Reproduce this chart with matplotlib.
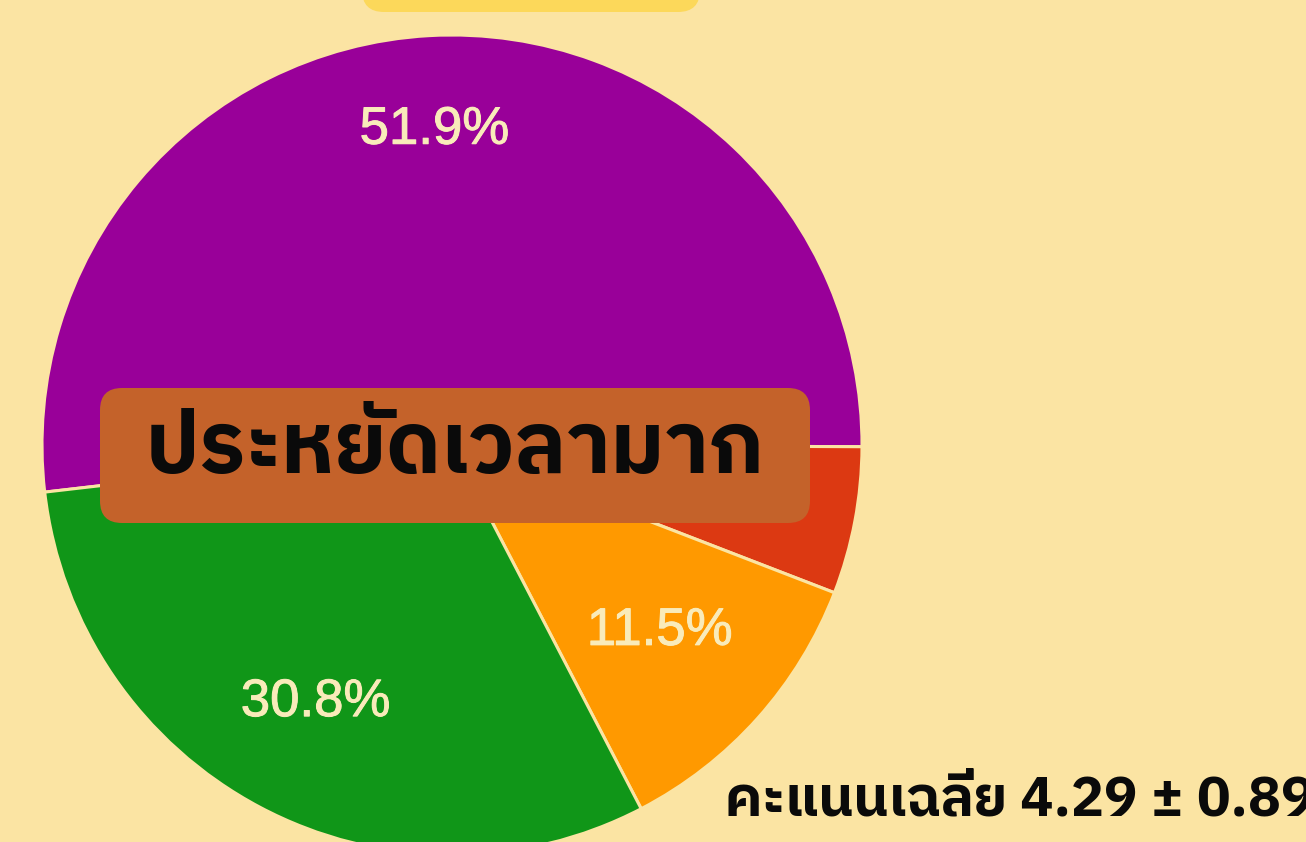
import matplotlib
matplotlib.use("Agg")
import matplotlib.pyplot as plt
from matplotlib import font_manager
from matplotlib.ft2font import FT2Font
from matplotlib.patches import FancyBboxPatch
import matplotlib.patheffects as pe
import numpy as np

# Survey answer shares (percent), clockwise from the largest slice
shares = [51.9, 5.8, 11.5, 30.8]
colors = ["#990099", "#dc3912", "#ff9900", "#109618"]
show_pct = [True, False, True, True]
title_text = "ประหยัดเวลามาก"
score_text = "คะแนนเฉลี่ย 4.29 ± 0.89"

BG = "#fbe4a3"
LABEL = "#f9ebba"


def find_thai_font():
    preferred = []
    others = []
    for f in font_manager.fontManager.ttflist:
        try:
            cmap = FT2Font(f.fname).get_charmap()
        except Exception:
            continue
        if 0x0E1B in cmap and 0x0E22 in cmap:
            if "thai" in f.name.lower():
                preferred.append(f.name)
            else:
                others.append(f.name)
    names = preferred + others
    return names[0] if names else "DejaVu Sans"


thai = find_thai_font()

W, H = 1306, 842
fig = plt.figure(figsize=(W / 100, H / 100), dpi=100, facecolor=BG)
ax = fig.add_axes([0, 0, 1, 1])

# header tab at the top edge
ax.add_patch(FancyBboxPatch((362, H - 12), 338, 60,
                            boxstyle="round,pad=0,rounding_size=22",
                            fc="#fcd85a", ec="none", zorder=1))

cx, cy, r = 452, H - 445, 410
wedges, texts, autotexts = ax.pie(
    shares, colors=colors, startangle=186.6, counterclock=False,
    center=(cx, cy), radius=r, frame=True,
    autopct=lambda p: f"{p:.1f}%", pctdistance=0.72,
    wedgeprops=dict(edgecolor=BG, linewidth=2.2),
    textprops=dict(color=LABEL, fontsize=38, family="Liberation Sans"))
ax.set_xlim(0, W)
ax.set_ylim(0, H)
ax.set_aspect("equal")
ax.axis("off")

label_frac = [0.77, 0.7, 0.68, 0.71]
for w, t, show, fr in zip(wedges, autotexts, show_pct, label_frac):
    if not show:
        t.set_visible(False)
        continue
    ang = np.deg2rad((w.theta1 + w.theta2) / 2)
    t.set_position((cx + fr * r * np.cos(ang), cy + fr * r * np.sin(ang)))
    t.set_path_effects([pe.withStroke(linewidth=0.7, foreground=LABEL)])

# banner over the pie
ax.add_patch(FancyBboxPatch((100, H - 523), 710, 135,
                            boxstyle="round,pad=0,rounding_size=22",
                            fc="#c4622a", ec="none", zorder=5))
ax.text(455, H - 450, title_text, fontsize=62, fontweight="bold",
        family=[thai, "DejaVu Sans"],
        color="#0a0a0a", ha="center", va="center", zorder=6)

ax.text(725, H - 815, score_text, fontsize=40, fontweight="bold",
        family=[thai, "DejaVu Sans"],
        color="#0a0a0a", ha="left", va="baseline", zorder=6)

fig.savefig("out.png", dpi=100, facecolor=BG)
